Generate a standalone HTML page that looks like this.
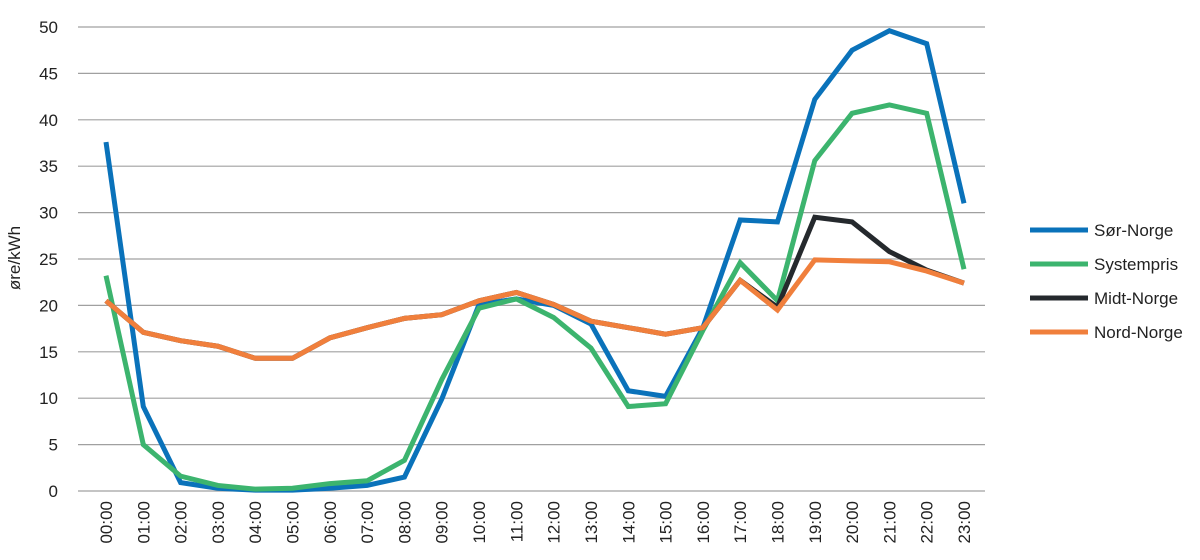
<!DOCTYPE html>
<html><head><meta charset="utf-8"><style>
body{margin:0;background:#fff;}
svg{display:block;font-family:"Liberation Sans",sans-serif;}
</style></head><body>
<svg id="chart" width="1200" height="560" xmlns="http://www.w3.org/2000/svg">
<g id="grid"></g>
<g id="ylab" font-size="17" fill="#222" text-anchor="end"></g>
<g id="xlab" font-size="17" fill="#222"></g>
<text x="0" y="0" font-size="17" fill="#222" text-anchor="middle" transform="translate(20,258) rotate(-90)">øre/kWh</text>
<g id="lines"></g>
<g id="legend" font-size="17" fill="#222"></g>
</svg>
<script>
const categories=["00:00","01:00","02:00","03:00","04:00","05:00","06:00","07:00","08:00","09:00","10:00","11:00","12:00","13:00","14:00","15:00","16:00","17:00","18:00","19:00","20:00","21:00","22:00","23:00"];
const yTicks=[0,5,10,15,20,25,30,35,40,45,50];
const seriesNames=["Sør-Norge","Systempris","Midt-Norge","Nord-Norge"];
const seriesColors=["#0a72ba","#3cb46e","#25292d","#f07f3c"];
const sorNorge=[37.6,9.1,0.9,0.3,0.1,0.1,0.3,0.6,1.5,9.9,20.1,20.7,20.0,18.0,10.8,10.2,17.6,29.2,29.0,42.2,47.5,49.6,48.2,31.0];
const systempris=[23.2,5.0,1.6,0.6,0.2,0.3,0.8,1.1,3.3,12.0,19.7,20.7,18.7,15.4,9.1,9.4,17.3,24.6,20.5,35.6,40.7,41.6,40.7,23.9];
const midtNorge=[20.5,17.1,16.2,15.6,14.3,14.3,16.5,17.6,18.6,19.0,20.5,21.4,20.1,18.3,17.6,16.9,17.6,22.7,19.8,29.5,29.0,25.8,23.8,22.4];
const nordNorge=[20.5,17.1,16.2,15.6,14.3,14.3,16.5,17.6,18.6,19.0,20.5,21.4,20.1,18.3,17.6,16.9,17.6,22.7,19.5,24.9,24.8,24.7,23.7,22.4];
const allSeries=[sorNorge,systempris,midtNorge,nordNorge];
const NS="http://www.w3.org/2000/svg";
const L=78,R=985,Y0=491,Y1=27;
const x=i=>106+i*(964-106)/(categories.length-1);
const y=v=>Y0-(v/50)*(Y0-Y1);
function mk(t,a,p){const e=document.createElementNS(NS,t);for(const k in a)e.setAttribute(k,a[k]);p.appendChild(e);return e;}
const g=document.getElementById('grid'),yl=document.getElementById('ylab'),xl=document.getElementById('xlab'),ln=document.getElementById('lines'),lg=document.getElementById('legend');
yTicks.forEach(t=>{
 const l=mk('line',{x1:L,x2:R,y1:y(t),y2:y(t),stroke:'#a0a0a0','stroke-width':1.2},g);
 
 
 const tx=mk('text',{x:58,y:y(t)+6},yl);tx.textContent=t;
 
 
});
categories.forEach((c,i)=>{
 const tx=mk('text',{transform:`translate(${x(i)+6},${Y0+10}) rotate(-90)`,'text-anchor':'end'},xl);tx.textContent=c;
 
 
});
allSeries.forEach((s,k)=>{
 const p=mk('polyline',{points:s.map((v,i)=>x(i)+','+y(v)).join(' '),fill:'none',stroke:seriesColors[k],'stroke-width':5,'stroke-linejoin':'miter'},ln);
 
 
});
seriesNames.forEach((n,k)=>{
 const yy=230+k*34;
 const l=mk('line',{x1:1030,x2:1088,y1:yy,y2:yy,stroke:seriesColors[k],'stroke-width':5},lg);
 
 
 const t=mk('text',{x:1094,y:yy+6},lg);t.textContent=n;
 
 
});
</script>
</body></html>
